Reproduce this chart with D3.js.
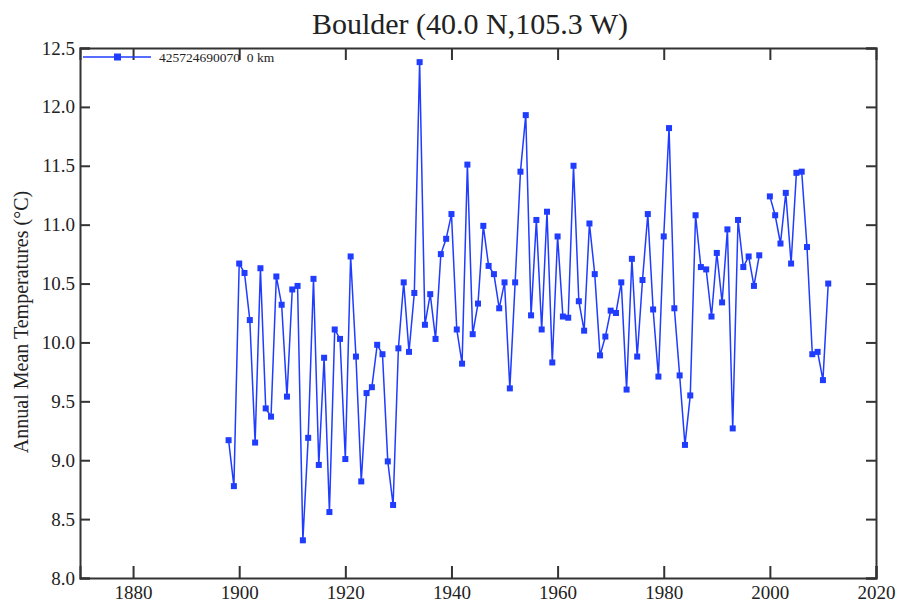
<!DOCTYPE html>
<html>
<head>
<meta charset="utf-8">
<script src="https://cdn.jsdelivr.net/npm/d3@7"></script>
<style>
  body { margin: 0; background: #fff; }
  text { font-family: "Liberation Serif", "DejaVu Serif", serif; fill: #222; }
</style>
</head>
<body>
<svg width="898" height="609"></svg>
<script>
// station record, 1999 missing
var years = [1898,1899,1900,1901,1902,1903,1904,1905,1906,1907,1908,1909,1910,1911,1912,1913,1914,1915,1916,1917,
  1918,1919,1920,1921,1922,1923,1924,1925,1926,1927,1928,1929,1930,1931,1932,1933,1934,1935,1936,1937,
  1938,1939,1940,1941,1942,1943,1944,1945,1946,1947,1948,1949,1950,1951,1952,1953,1954,1955,1956,1957,
  1958,1959,1960,1961,1962,1963,1964,1965,1966,1967,1968,1969,1970,1971,1972,1973,1974,1975,1976,1977,
  1978,1979,1980,1981,1982,1983,1984,1985,1986,1987,1988,1989,1990,1991,1992,1993,1994,1995,1996,1997,
  1998,1999,2000,2001,2002,2003,2004,2005,2006,2007,2008,2009,2010,2011];
var temps = [9.17,8.78,10.67,10.59,10.19,9.15,10.63,9.44,9.37,10.56,10.32,9.54,10.45,10.48,8.32,9.19,10.54,8.96,9.87,8.56,
  10.11,10.03,9.01,10.73,9.88,8.82,9.57,9.62,9.98,9.90,8.99,8.62,9.95,10.51,9.92,10.42,12.38,10.15,10.41,10.03,
  10.75,10.88,11.09,10.11,9.82,11.51,10.07,10.33,10.99,10.65,10.58,10.29,10.51,9.61,10.51,11.45,11.93,10.23,11.04,10.11,
  11.11,9.83,10.90,10.22,10.21,11.50,10.35,10.10,11.01,10.58,9.89,10.05,10.27,10.25,10.51,9.60,10.71,9.88,10.53,11.09,
  10.28,9.71,10.90,11.82,10.29,9.72,9.13,9.55,11.08,10.64,10.62,10.22,10.76,10.34,10.96,9.27,11.04,10.64,10.73,10.48,
  10.74,null,11.24,11.08,10.84,11.27,10.67,11.44,11.45,10.81,9.90,9.92,9.68,10.50];
var yearTicks = [1880,1900,1920,1940,1960,1980,2000,2020];
var tempTicks = [8.0,8.5,9.0,9.5,10.0,10.5,11.0,11.5,12.0,12.5];
var seriesName = '425724690070  0 km';

var svg = d3.select('svg');
var plotLeft = 80, plotRight = 876, plotTop = 48, plotBottom = 578;
var blue = '#1f3cff';

var x = d3.scaleLinear().domain([1870, 2020]).range([plotLeft, plotRight]);
var y = d3.scaleLinear().domain([8, 12.5]).range([plotBottom, plotTop]);

var data = years.map((d, i) => ({year: d, t: temps[i]}));

// title
svg.append('text')
    .attr('x', 470).attr('y', 34)
    .attr('text-anchor', 'middle')
    .style('font-size', '30px')
    .text('Boulder (40.0 N,105.3 W)');

// axes - ticks point inward
svg.append('g')
    .attr('transform', 'translate(0,' + plotBottom + ')')
    .call(d3.axisBottom(x).tickValues(yearTicks).tickSize(-12).tickPadding(8).tickFormat(d3.format('d')));
svg.append('g')
    .attr('transform', 'translate(0,' + plotTop + ')')
    .call(d3.axisTop(x).tickValues(yearTicks.slice(0, -1)).tickSize(-12).tickFormat(''));
svg.append('g')
    .attr('transform', 'translate(' + plotLeft + ',0)')
    .call(d3.axisLeft(y).tickValues(tempTicks).tickSize(-10).tickPadding(5).tickFormat(d3.format('.1f')));
svg.append('g')
    .attr('transform', 'translate(' + plotRight + ',0)')
    .call(d3.axisRight(y).tickValues(tempTicks).tickSize(-10).tickFormat(''));

svg.selectAll('.domain').attr('stroke', '#333').attr('stroke-width', 2);
svg.selectAll('.tick line').attr('stroke', '#333').attr('stroke-width', 2);
svg.selectAll('.tick text').style('font-size', '19px').style('font-family', '"Liberation Serif", serif').attr('fill', '#222');

// y label
svg.append('text')
    .attr('transform', 'translate(28,322) rotate(-90)')
    .attr('text-anchor', 'middle')
    .style('font-size', '20px')
    .text('Annual Mean Temperatures (°C)');

// series
var line = d3.line()
    .defined(d => d.t !== null)
    .x(d => x(d.year))
    .y(d => y(d.t));

svg.append('path')
    .datum(data)
    .attr('d', line)
    .attr('fill', 'none')
    .attr('stroke', blue)
    .attr('stroke-width', 1.5);

svg.append('g').selectAll('rect')
    .data(data.filter(d => d.t !== null))
    .enter()
    .append('rect')
    .attr('x', d => x(d.year) - 3)
    .attr('y', d => y(d.t) - 3)
    .attr('width', 6)
    .attr('height', 6)
    .attr('fill', blue);

// legend
var lg = svg.append('g').attr('transform', 'translate(83,57)');
lg.append('line').attr('x1', 0).attr('x2', 68).attr('stroke', blue).attr('stroke-width', 1.5);
lg.append('rect').attr('x', 31).attr('y', -3.5).attr('width', 7).attr('height', 7).attr('fill', blue);
lg.append('text').attr('x', 76).attr('y', 4.5)
    .style('font-size', '13.5px').style('white-space', 'pre')
    .attr('fill', '#555').text(seriesName);
</script>
</body>
</html>
